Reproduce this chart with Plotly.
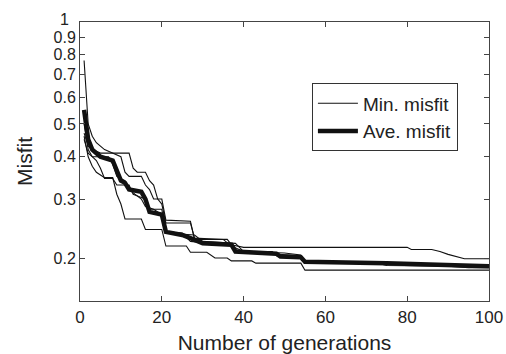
import plotly.graph_objects as go

# Five runs: minimum misfit per generation (gen, value) breakpoints
run_a_gen = [1, 2, 3, 4, 6, 8, 10, 11, 12, 15, 16, 17, 18, 20, 21, 27, 28, 36, 37, 40, 80, 81, 86, 88, 90, 94, 100]
run_a_val = [0.77, 0.50, 0.46, 0.44, 0.42, 0.41, 0.40, 0.36, 0.35, 0.35, 0.33, 0.32, 0.30, 0.30, 0.26, 0.258, 0.228, 0.228, 0.22, 0.216, 0.216, 0.213, 0.213, 0.21, 0.206, 0.20, 0.20]

run_b_gen = [1, 2, 3, 4, 6, 8, 9, 10, 11, 15, 16, 20, 21, 26, 27, 31, 33, 36, 37, 42, 43, 54, 55, 100]
run_b_val = [0.46, 0.40, 0.375, 0.36, 0.347, 0.347, 0.31, 0.29, 0.262, 0.262, 0.244, 0.244, 0.218, 0.218, 0.209, 0.209, 0.201, 0.201, 0.197, 0.197, 0.194, 0.194, 0.185, 0.185]

run_c_gen = [1, 2, 3, 4, 5, 6, 8, 9, 12, 13, 16, 17, 20, 21, 28, 30, 38, 40, 47, 48, 54, 55, 72, 75, 90, 95, 100]
run_c_val = [0.50, 0.42, 0.40, 0.39, 0.37, 0.345, 0.345, 0.33, 0.33, 0.31, 0.30, 0.28, 0.28, 0.238, 0.235, 0.225, 0.222, 0.21, 0.21, 0.204, 0.204, 0.197, 0.195, 0.191, 0.19, 0.188, 0.188]

run_d_gen = [1, 2, 3, 5, 12, 13, 14, 16, 17, 18, 19, 20, 21, 27, 28, 35, 37, 40, 50, 54, 55, 75, 85, 95, 100]
run_d_val = [0.47, 0.43, 0.42, 0.41, 0.41, 0.37, 0.36, 0.36, 0.34, 0.33, 0.30, 0.29, 0.255, 0.255, 0.23, 0.228, 0.218, 0.21, 0.208, 0.205, 0.196, 0.194, 0.192, 0.19, 0.19]

run_e_gen = [1, 2, 3, 7, 8, 9, 11, 12, 15, 16, 18, 20, 21, 25, 27, 32, 36, 38, 44, 48, 54, 55, 80, 90, 100]
run_e_val = [0.45, 0.41, 0.40, 0.40, 0.38, 0.35, 0.34, 0.32, 0.30, 0.285, 0.28, 0.27, 0.24, 0.238, 0.225, 0.222, 0.222, 0.212, 0.208, 0.206, 0.204, 0.195, 0.193, 0.19, 0.189]

# Average misfit
ave_gen = [1, 2, 3, 5, 8, 9, 10, 11, 12, 15, 16, 17, 20, 21, 25, 27, 30, 37, 38, 48, 49, 54, 55, 75, 88, 95, 100]
ave_val = [0.55, 0.45, 0.42, 0.40, 0.39, 0.36, 0.34, 0.335, 0.32, 0.315, 0.30, 0.275, 0.27, 0.24, 0.235, 0.23, 0.222, 0.22, 0.21, 0.207, 0.203, 0.202, 0.196, 0.194, 0.192, 0.19, 0.19]

y_ticks = [0.2, 0.3, 0.4, 0.5, 0.6, 0.7, 0.8, 0.9, 1]
y_tick_text = ["0.2", "0.3", "0.4", "0.5", "0.6", "0.7", "0.8", "0.9", "1"]
x_ticks = [0, 20, 40, 60, 80, 100]

runs = [(run_a_gen, run_a_val), (run_b_gen, run_b_val), (run_c_gen, run_c_val),
        (run_d_gen, run_d_val), (run_e_gen, run_e_val)]

fig = go.Figure()
for i, (g, v) in enumerate(runs):
    fig.add_trace(go.Scatter(x=g, y=v, mode="lines", line=dict(color="#111", width=1.1),
                             name="Min. misfit", showlegend=(i == 0)))
fig.add_trace(go.Scatter(x=ave_gen, y=ave_val, mode="lines", line=dict(color="#111", width=4.5),
                         name="Ave. misfit"))

font = "Liberation Sans, Arial, Helvetica, sans-serif"
tick_size = 16

# The top label ("1") sits slightly above its tick in the reference; draw it as an annotation
shown_text = [t if v != 1 else "" for v, t in zip(y_ticks, y_tick_text)]
fig.add_annotation(x=0, xref="paper", y=0, yref="y", text=y_tick_text[-1],
                   xanchor="right", yanchor="middle", xshift=-9, yshift=3,
                   showarrow=False, font=dict(size=tick_size, family=font, color="#222"))

fig.update_layout(
    width=506, height=354,
    margin=dict(l=80, r=17, t=22, b=53),
    paper_bgcolor="white", plot_bgcolor="white",
    font=dict(family=font, size=tick_size, color="#222"),
    legend=dict(x=0.924, y=0.78, xanchor="right", yanchor="top",
                bordercolor="#333", borderwidth=1, bgcolor="white",
                font=dict(size=19), tracegroupgap=0, itemwidth=40),
    xaxis=dict(range=[0, 100], tickvals=x_ticks, ticks="inside", ticklen=5,
               showline=True, linecolor="#444", linewidth=1, mirror="ticks",
               showgrid=False, zeroline=False, tickfont=dict(size=17),
               ticklabelstandoff=1, automargin=False, ticklabeloverflow="allow",
               title=dict(text="Number of generations", font=dict(size=21), standoff=20)),
    yaxis=dict(type="log", range=[-0.8239, 0], tickvals=y_ticks, ticktext=shown_text,
               ticks="inside", ticklen=5, showline=True, linecolor="#444", linewidth=1,
               mirror="ticks", showgrid=False, zeroline=False, tickfont=dict(size=tick_size),
               automargin=False,
               title=dict(text="Misfit", font=dict(size=21), standoff=15)),
)

# remove the page's default body margin so the 506x354 figure fills the window exactly
fig.write_html("out.html", config={"displayModeBar": False},
               post_script="document.body.style.margin='0';")
